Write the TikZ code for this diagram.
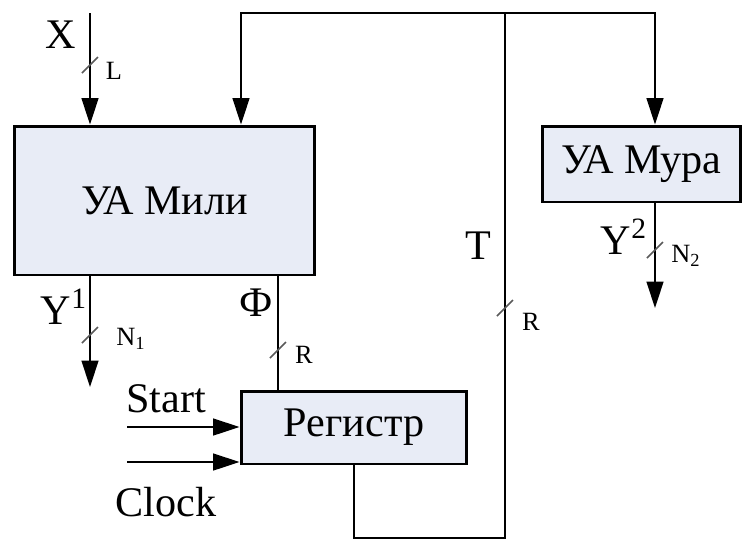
\documentclass[tikz,border=0pt]{standalone}
\usepackage{fontspec}
\setmainfont{Liberation Serif}
\usetikzlibrary{arrows.meta, positioning}
\definecolor{blockfill}{RGB}{232,236,246}

\begin{document}
\begin{tikzpicture}[
    x=0.02cm, y=-0.02cm,
    >={Triangle[length=15pt, width=9.5pt]},
    block/.style={draw=black, line width=1.7pt, fill=blockfill, inner sep=0pt, font=\fontsize{24}{28}\selectfont},
    wire/.style={line width=1.3pt},
    sig/.style={->, line width=1.3pt},
    busmark/.style={line width=0.9pt, black!65},
    biglabel/.style={font=\fontsize{24}{28}\selectfont},
    buslabel/.style={font=\fontsize{15}{17}\selectfont}
]
\useasboundingbox (0,0) rectangle (754,542);

% ===== Blocks =====
\node[block, minimum width=6.02cm, minimum height=2.98cm] (mili) at (164.5,200.5) {УА Мили};
\node[block, minimum width=3.98cm, minimum height=1.52cm] (mura) at (641.5,164) {УА Мура};
\node[block, minimum width=4.52cm, minimum height=1.46cm] (reg) at (354,427.5) {Регистр};

% ===== Helper points =====
\coordinate (xin) at (90,13);
\coordinate (y1out) at (90,387);
\coordinate (phi) at (278,0);
\coordinate (st) at (127,427);
\coordinate (ck) at (127,462);
\coordinate (tbot) at (505,538);
\coordinate (ttop) at (505,13);
\coordinate (fbL) at (241,13);
\coordinate (fbR) at (655,13);
\coordinate (y2out) at (655,308);

% ===== Inputs and outputs =====
\draw[sig] (xin) -- (xin |- mili.north);
\draw[sig] (y1out |- mili.south) -- (y1out);
\draw[wire] (phi |- mili.south) -- (phi |- reg.north);
\draw[sig] (st) -- (st -| reg.west);
\draw[sig] (ck) -- (ck -| reg.west);
\draw[sig] (y2out |- mura.south) -- (y2out);

% ===== Feedback T =====
\draw[wire] (reg.south) |- (tbot) -- (ttop);
\draw[sig] (ttop) -- (fbL) -- (fbL |- mili.north);
\draw[sig] (ttop) -- (fbR) -- (fbR |- mura.north);

% ===== Bus marks =====
\draw[busmark] (82,73) -- (98,57);
\draw[busmark] (82,343) -- (98,327);
\draw[busmark] (270,358) -- (286,342);
\draw[busmark] (497,316) -- (513,300);
\draw[busmark] (647,258) -- (663,242);

% ===== Labels =====
\node[biglabel] (lx) at (61,35) {X};
\node[buslabel] (ll) at (114,71) {L};
\node[biglabel] (ly1) at (64,307) {Y\textsuperscript{1}};
\node[buslabel] (ln1) at (131,339) {N\textsubscript{1}};
\node[biglabel] (lphi) at (256,303) {Ф};
\node[buslabel] (lr1) at (304,355) {R};
\node[biglabel] (lstart) at (166,399) {Start};
\node[biglabel] (lclock) at (166,502) {Clock};
\node[biglabel] (lt) at (478,246) {T};
\node[buslabel] (lr2) at (531,322) {R};
\node[biglabel] (ly2) at (624,237) {Y\textsuperscript{2}};
\node[buslabel] (ln2) at (686,256) {N\textsubscript{2}};

\end{tikzpicture}
\end{document}
